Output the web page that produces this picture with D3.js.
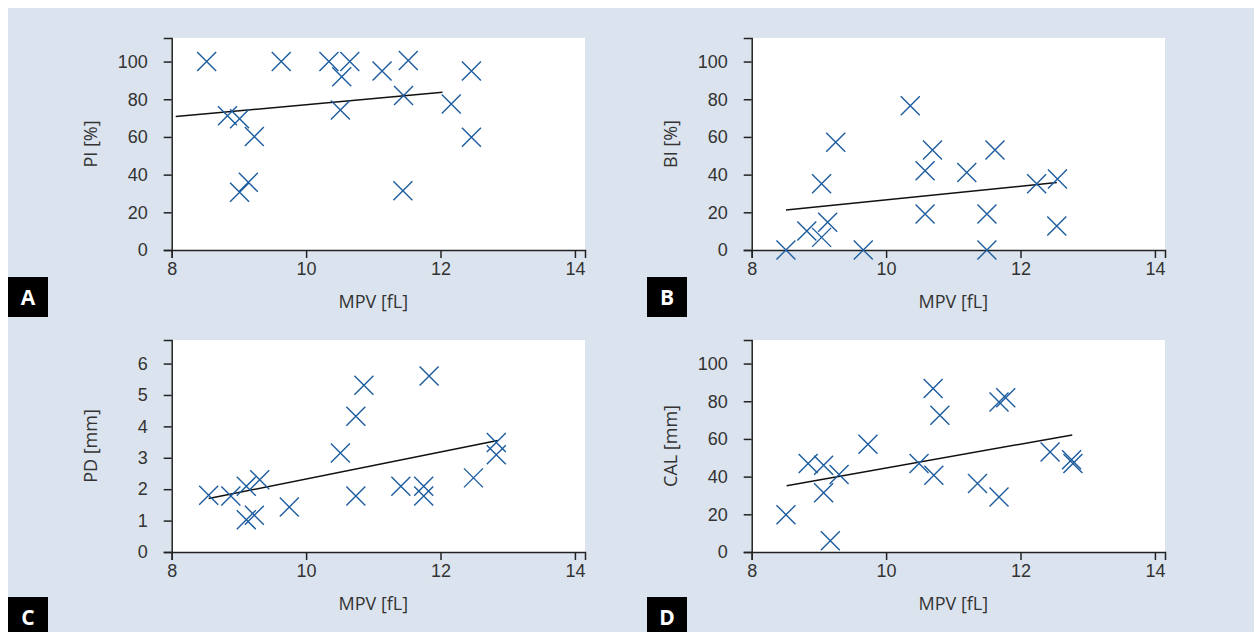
<!DOCTYPE html>
<html>
<head>
<meta charset="utf-8">
<script src="https://cdn.jsdelivr.net/npm/d3@7"></script>
<style>
    body { margin: 0; background: #fff; }
    svg { display: block; font-family: "Open Sans", "Noto Sans", sans-serif; }
    .axis path, .axis line { stroke: #222; stroke-width: 1.5; }
    .axis text { fill: #333; font-size: 18px; }
    .title { fill: #333; font-size: 18px; }
    .marker { stroke: #1c5c9e; stroke-width: 1.4; fill: none; }
    .fit { stroke: #111; stroke-width: 1.5; fill: none; }
    .letter { fill: #fff; font-size: 21px; font-weight: bold; }
</style>
</head>
<body>
<svg id="chart" width="1254" height="632"></svg>
<script>
// values
const mpvA = [8.52, 9.63, 10.34, 10.65, 10.53, 11.13, 11.52, 12.46, 11.45, 12.16, 10.51, 8.83, 9.01, 9.23, 12.46, 9.14, 9.01, 11.44];
const piValues = [100, 100, 100, 100, 92, 95, 100.5, 95, 82, 77.5, 74.3, 71.3, 69.7, 60.2, 59.8, 35.9, 30.6, 31.5];
const fitA = [[8.06, 70.8], [12.03, 83.7]];

const mpvB = [8.51, 9.66, 11.50, 10.36, 9.25, 10.69, 11.62, 10.58, 11.20, 9.04, 12.24, 12.55, 10.58, 11.50, 12.54, 9.13, 8.82, 9.04];
const biValues = [0, 0, 0, 76.6, 57.2, 53.1, 53.1, 42.1, 41.1, 35.2, 35.2, 37.7, 19.1, 19.1, 12.7, 14.7, 10.1, 6.7];
const fitB = [[8.51, 21.2], [12.54, 35.8]];

const mpvC = [8.55, 8.88, 9.11, 9.31, 9.11, 9.23, 9.75, 10.51, 10.74, 10.86, 10.74, 11.41, 11.75, 11.75, 11.83, 12.49, 12.83, 12.83];
const pdValues = [1.81, 1.78, 2.09, 2.30, 1.03, 1.17, 1.43, 3.15, 4.32, 5.31, 1.78, 2.09, 2.09, 1.78, 5.60, 2.36, 3.49, 3.10];
const fitC = [[8.55, 1.70], [12.85, 3.55]];

const mpvD = [8.51, 9.17, 8.84, 9.07, 9.30, 9.07, 9.73, 10.49, 10.70, 10.80, 10.71, 11.36, 11.68, 11.78, 11.68, 12.44, 12.76, 12.78];
const calValues = [19.8, 6.0, 46.9, 46.0, 41.1, 31.5, 57.2, 46.9, 86.7, 72.6, 40.7, 36.3, 79.6, 81.9, 29.2, 53.1, 49.0, 47.0];
const fitD = [[8.52, 35.2], [12.77, 62.1]];

const xTicks = [8, 10, 12, 14];
const percentTicks = [0, 20, 40, 60, 80, 100];
const mmTicks = [0, 1, 2, 3, 4, 5, 6];

const xTitle = "MPV [fL]";

const panels = [
    {letter: "A", x: mpvA, y: piValues, fit: fitA, yMax: 112.5, ticks: percentTicks, yTitle: "PI [%]", left: 171.7, top: 38, lx: 8, ly: 277},
    {letter: "B", x: mpvB, y: biValues, fit: fitB, yMax: 112.5, ticks: percentTicks, yTitle: "BI [%]", left: 751.7, top: 38, lx: 647, ly: 277},
    {letter: "C", x: mpvC, y: pdValues, fit: fitC, yMax: 6.75, ticks: mmTicks, yTitle: "PD [mm]", left: 171.7, top: 340, lx: 8, ly: 597},
    {letter: "D", x: mpvD, y: calValues, fit: fitD, yMax: 112.5, ticks: percentTicks, yTitle: "CAL [mm]", left: 751.7, top: 340, lx: 647, ly: 597}
];

const width = 413.3, height = 212;
const svg = d3.select("#chart");

svg.append("rect")
    .attr("x", 8).attr("y", 8)
    .attr("width", 1254 - 8).attr("height", 632 - 8)
    .attr("fill", "#dbe4ee");

const xScale = d3.scaleLinear().domain([8, 14.15]).range([0, width]);
const intFormat = d3.format("d");

panels.forEach(function(p) {
    let yScale = d3.scaleLinear().domain([0, p.yMax]).range([height, 0]);
    let g = svg.append("g").attr("transform", "translate(" + p.left + "," + p.top + ")");

    g.append("rect").attr("width", width).attr("height", height).attr("fill", "#fff");

    g.append("g").attr("class", "x axis")
        .attr("transform", "translate(0," + height + ")")
        .call(d3.axisBottom(xScale).tickValues(xTicks).tickFormat(intFormat).tickSizeOuter(0).tickSize(8).tickPadding(4));

    g.append("g").attr("class", "y axis")
        .call(d3.axisLeft(yScale).tickValues(p.ticks).tickFormat(intFormat).tickSizeOuter(0).tickSize(8).tickPadding(16));

    let data = p.x.map(function(d, i) { return {mpv: d, v: p.y[i]}; });

    g.append("path").attr("class", "fit")
        .attr("d", d3.line().x(function(d) { return xScale(d[0]); }).y(function(d) { return yScale(d[1]); })(p.fit));

    g.selectAll(".marker").data(data).enter()
        .append("path")
        .attr("class", "marker")
        .attr("transform", function(d) { return "translate(" + xScale(d.mpv) + "," + yScale(d.v) + ")"; })
        .attr("d", "M-9.5,-9.5L9.5,9.5M-9.5,9.5L9.5,-9.5");

    g.append("text").attr("class", "title")
        .attr("text-anchor", "middle")
        .attr("x", xScale(11))
        .attr("y", height + 58)
        .text(xTitle);

    g.append("text").attr("class", "title")
        .attr("text-anchor", "middle")
        .attr("transform", "translate(-75," + (height / 2) + ") rotate(-90)")
        .text(p.yTitle);

    svg.append("rect").attr("x", p.lx).attr("y", p.ly).attr("width", 40).attr("height", 40).attr("fill", "#000");
    svg.append("text").attr("class", "letter")
        .attr("text-anchor", "middle")
        .attr("x", p.lx + 20).attr("y", p.ly + 28)
        .text(p.letter);
});
</script>
</body>
</html>
